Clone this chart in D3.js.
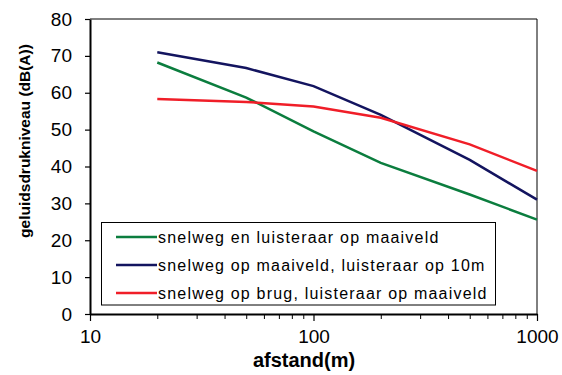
<!DOCTYPE html>
<html>
<head>
<meta charset="utf-8">
<script src="https://cdn.jsdelivr.net/npm/d3@7"></script>
<style>
  body { margin: 0; background: #fff; }
  text { font-family: "Liberation Sans", Arial, sans-serif; fill: #000; }
</style>
</head>
<body>
<div id="chart"></div>
<script>
// afstand (m) en geluidsniveau per situatie
var afstand = [20, 50, 100, 200, 500, 1000];
var maaiveld = [68.2, 58.7, 49.5, 41.0, 32.4, 25.6];
var luisteraar10m = [71.0, 66.7, 61.8, 54.0, 41.8, 31.0];
var brug = [58.3, 57.5, 56.3, 53.2, 46.0, 38.8];
var seriesNames = ["snelweg en luisteraar op maaiveld", "snelweg op maaiveld, luisteraar op 10m", "snelweg op brug, luisteraar op maaiveld"];
var seriesColors = ["#0b7d3e", "#13145f", "#f01e28"];
var yTicks = [0, 10, 20, 30, 40, 50, 60, 70, 80];
var xTicks = [10, 100, 1000];

var width = 562, height = 375;
var plotLeft = 90, plotRight = 537, plotTop = 19, plotBottom = 314;

var svg = d3.select("#chart").append("svg")
    .attr("width", width)
    .attr("height", height);

var x = d3.scaleLog().domain([10, 1000]).range([plotLeft, plotRight]);
var y = d3.scaleLinear().domain([0, 80]).range([plotBottom, plotTop]);

// frame (top and right)
svg.append("path")
    .attr("d", "M" + plotLeft + "," + plotTop + "H" + plotRight + "V" + plotBottom)
    .attr("fill", "none")
    .attr("stroke", "#000")
    .attr("stroke-width", 1);

// y axis
var yAxis = svg.append("g")
    .attr("transform", "translate(" + plotLeft + ",0)")
    .call(d3.axisLeft(y).tickValues(yTicks).tickSize(5).tickPadding(13).tickSizeOuter(0));
yAxis.select(".domain").attr("stroke-width", 2);
yAxis.selectAll(".tick line").attr("stroke-width", 1.2);
yAxis.selectAll("text").style("font-size", "19px");

// x axis with minor ticks
var minor = [];
[10, 100].forEach(function(d) { for (var i = 2; i <= 9; i++) minor.push(d * i); });
var xAxisMinor = svg.append("g")
    .attr("transform", "translate(0," + plotBottom + ")")
    .call(d3.axisBottom(x).tickValues(minor).tickSize(5).tickFormat(""));
xAxisMinor.select(".domain").remove();

var xAxis = svg.append("g")
    .attr("transform", "translate(0," + plotBottom + ")")
    .call(d3.axisBottom(x).tickValues(xTicks).tickSize(7).tickPadding(9).tickSizeOuter(0).tickFormat(d3.format("d")));
xAxis.select(".domain").attr("stroke-width", 2);
xAxis.selectAll(".tick line").attr("stroke-width", 1.2);
xAxis.selectAll("text").style("font-size", "19px");

// lines
var data = [maaiveld, luisteraar10m, brug];
var line = d3.line()
    .x(function(d, i) { return x(afstand[i]); })
    .y(function(d) { return y(d); });

svg.selectAll(".serie")
    .data(data)
  .enter().append("path")
    .attr("class", "serie")
    .attr("d", line)
    .attr("fill", "none")
    .attr("stroke", function(d, i) { return seriesColors[i]; })
    .attr("stroke-width", 2.5);

// legend
var legend = svg.append("g");
legend.append("rect")
    .attr("x", 101.5).attr("y", 222.5)
    .attr("width", 394).attr("height", 82.5)
    .attr("fill", "#fff")
    .attr("stroke", "#000")
    .attr("stroke-width", 1);

var item = legend.selectAll(".item")
    .data(seriesNames)
  .enter().append("g")
    .attr("class", "item")
    .attr("transform", function(d, i) { return "translate(0," + (237 + i * 28) + ")"; });

item.append("line")
    .attr("x1", 116).attr("x2", 157)
    .attr("stroke", function(d, i) { return seriesColors[i]; })
    .attr("stroke-width", 2.5);

item.append("text")
    .attr("x", 158)
    .attr("y", 6)
    .style("font-size", "16px")
    .style("letter-spacing", "1.2px")
    .text(function(d) { return d; });

// axis titles
svg.append("text")
    .attr("transform", "translate(30,141) rotate(-90)")
    .attr("text-anchor", "middle")
    .style("font-size", "15.5px")
    .style("font-weight", "bold")
    .text("geluidsdrukniveau (dB(A))");

svg.append("text")
    .attr("x", 304)
    .attr("y", 367)
    .attr("text-anchor", "middle")
    .style("font-size", "20px")
    .style("font-weight", "bold")
    .text("afstand(m)");
</script>
</body>
</html>
